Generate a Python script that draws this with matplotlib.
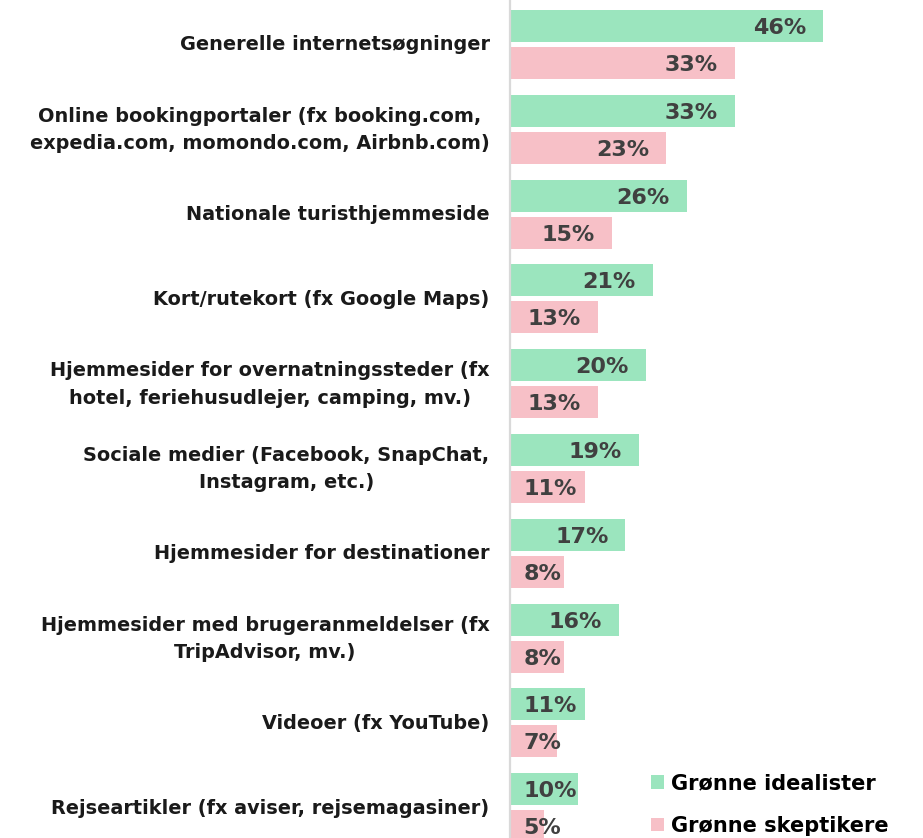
import numpy as np
import matplotlib
matplotlib.use("Agg")
import matplotlib.pyplot as plt
import matplotlib.transforms as mtransforms
from matplotlib.patches import Patch

categories = [
    "Generelle internetsøgninger",
    "Online bookingportaler (fx booking.com,\nexpedia.com, momondo.com, Airbnb.com)",
    "Nationale turisthjemmeside",
    "Kort/rutekort (fx Google Maps)",
    "Hjemmesider for overnatningssteder (fx\nhotel, feriehusudlejer, camping, mv.)",
    "Sociale medier (Facebook, SnapChat,\nInstagram, etc.)",
    "Hjemmesider for destinationer",
    "Hjemmesider med brugeranmeldelser (fx\nTripAdvisor, mv.)",
    "Videoer (fx YouTube)",
    "Rejseartikler (fx aviser, rejsemagasiner)",
]
idealister = [46, 33, 26, 21, 20, 19, 17, 16, 11, 10]
skeptikere = [33, 23, 15, 13, 13, 11, 8, 8, 7, 5]
series_names = ["Grønne idealister", "Grønne skeptikere"]

GREEN = "#9be5be"
PINK = "#f7c0c7"
FONT = "DejaVu Sans"

W, H, DPI = 923, 838, 100
fig = plt.figure(figsize=(W / DPI, H / DPI), dpi=DPI)
x0 = 509.5 / W
ax = fig.add_axes([x0, 0, 1 - x0, 1])

pitch = 84.8
y = np.arange(len(categories))
off = 18.5 / pitch
h = 32 / pitch
b1 = ax.barh(y - off, idealister, height=h, color=GREEN)
b2 = ax.barh(y + off, skeptikere, height=h, color=PINK)

ax.set_ylim((H - 44.5) / pitch, -44.5 / pitch)
ax.set_xlim(0, (W - 509.5) / 6.82)

anns = []
for bars, vals in ((b1, idealister), (b2, skeptikere)):
    for rect, v in zip(bars, vals):
        yc = rect.get_y() + rect.get_height() / 2
        a = ax.annotate(f"{v}%", xy=(rect.get_width(), yc),
                        xytext=(-17, -8), textcoords="offset pixels", ha="right", va="baseline",
                        fontsize=16, fontweight="bold", color="#404040", family=FONT)
        anns.append((a, yc))

# category labels: cap-centred on each group, right edge 20 px left of the axis
ytrans = ax.get_yaxis_transform()
LINE = 27.8
CAP = 14.0
for yi, cat in zip(y, categories):
    n = cat.count("\n") + 1
    last_base = CAP / 2 + LINE * (n - 1) / 2 - 1  # pixels below group centre
    tr = mtransforms.offset_copy(ytrans, fig=fig, x=-20, y=-last_base, units="dots")
    ax.text(0, yi, cat, transform=tr, ha="right", va="baseline", multialignment="center",
            linespacing=1.55, fontsize=13.9, fontweight="bold", color="#1a1a1a", family=FONT)

ax.set_xticks([])
ax.set_yticks([])
for s in ("top", "right", "bottom"):
    ax.spines[s].set_visible(False)
ax.spines["left"].set_color("#d9d9d9")
ax.spines["left"].set_linewidth(1.6)

handles = [Patch(facecolor=GREEN, edgecolor="none"), Patch(facecolor=PINK, edgecolor="none")]
fig.legend(handles, series_names, loc="center left", bbox_to_anchor=(651 / W, 1 - 804.5 / H),
           frameon=False, borderpad=0, borderaxespad=0, handlelength=0.62, handleheight=0.62,
           handletextpad=0.35, labelspacing=1.08,
           prop={"family": FONT, "weight": "bold", "size": 15})

# keep labels of short bars from running past the axis
fig.canvas.draw()
r = fig.canvas.get_renderer()
axis_px = ax.transAxes.transform((0, 0))[0]
for a, yc in anns:
    bb = a.get_window_extent(r)
    if bb.x0 < axis_px + 14:
        a.xy = (0, yc)
        a.set_position((14, -8))
        a.set_ha("left")

fig.savefig("out.png", dpi=DPI)
